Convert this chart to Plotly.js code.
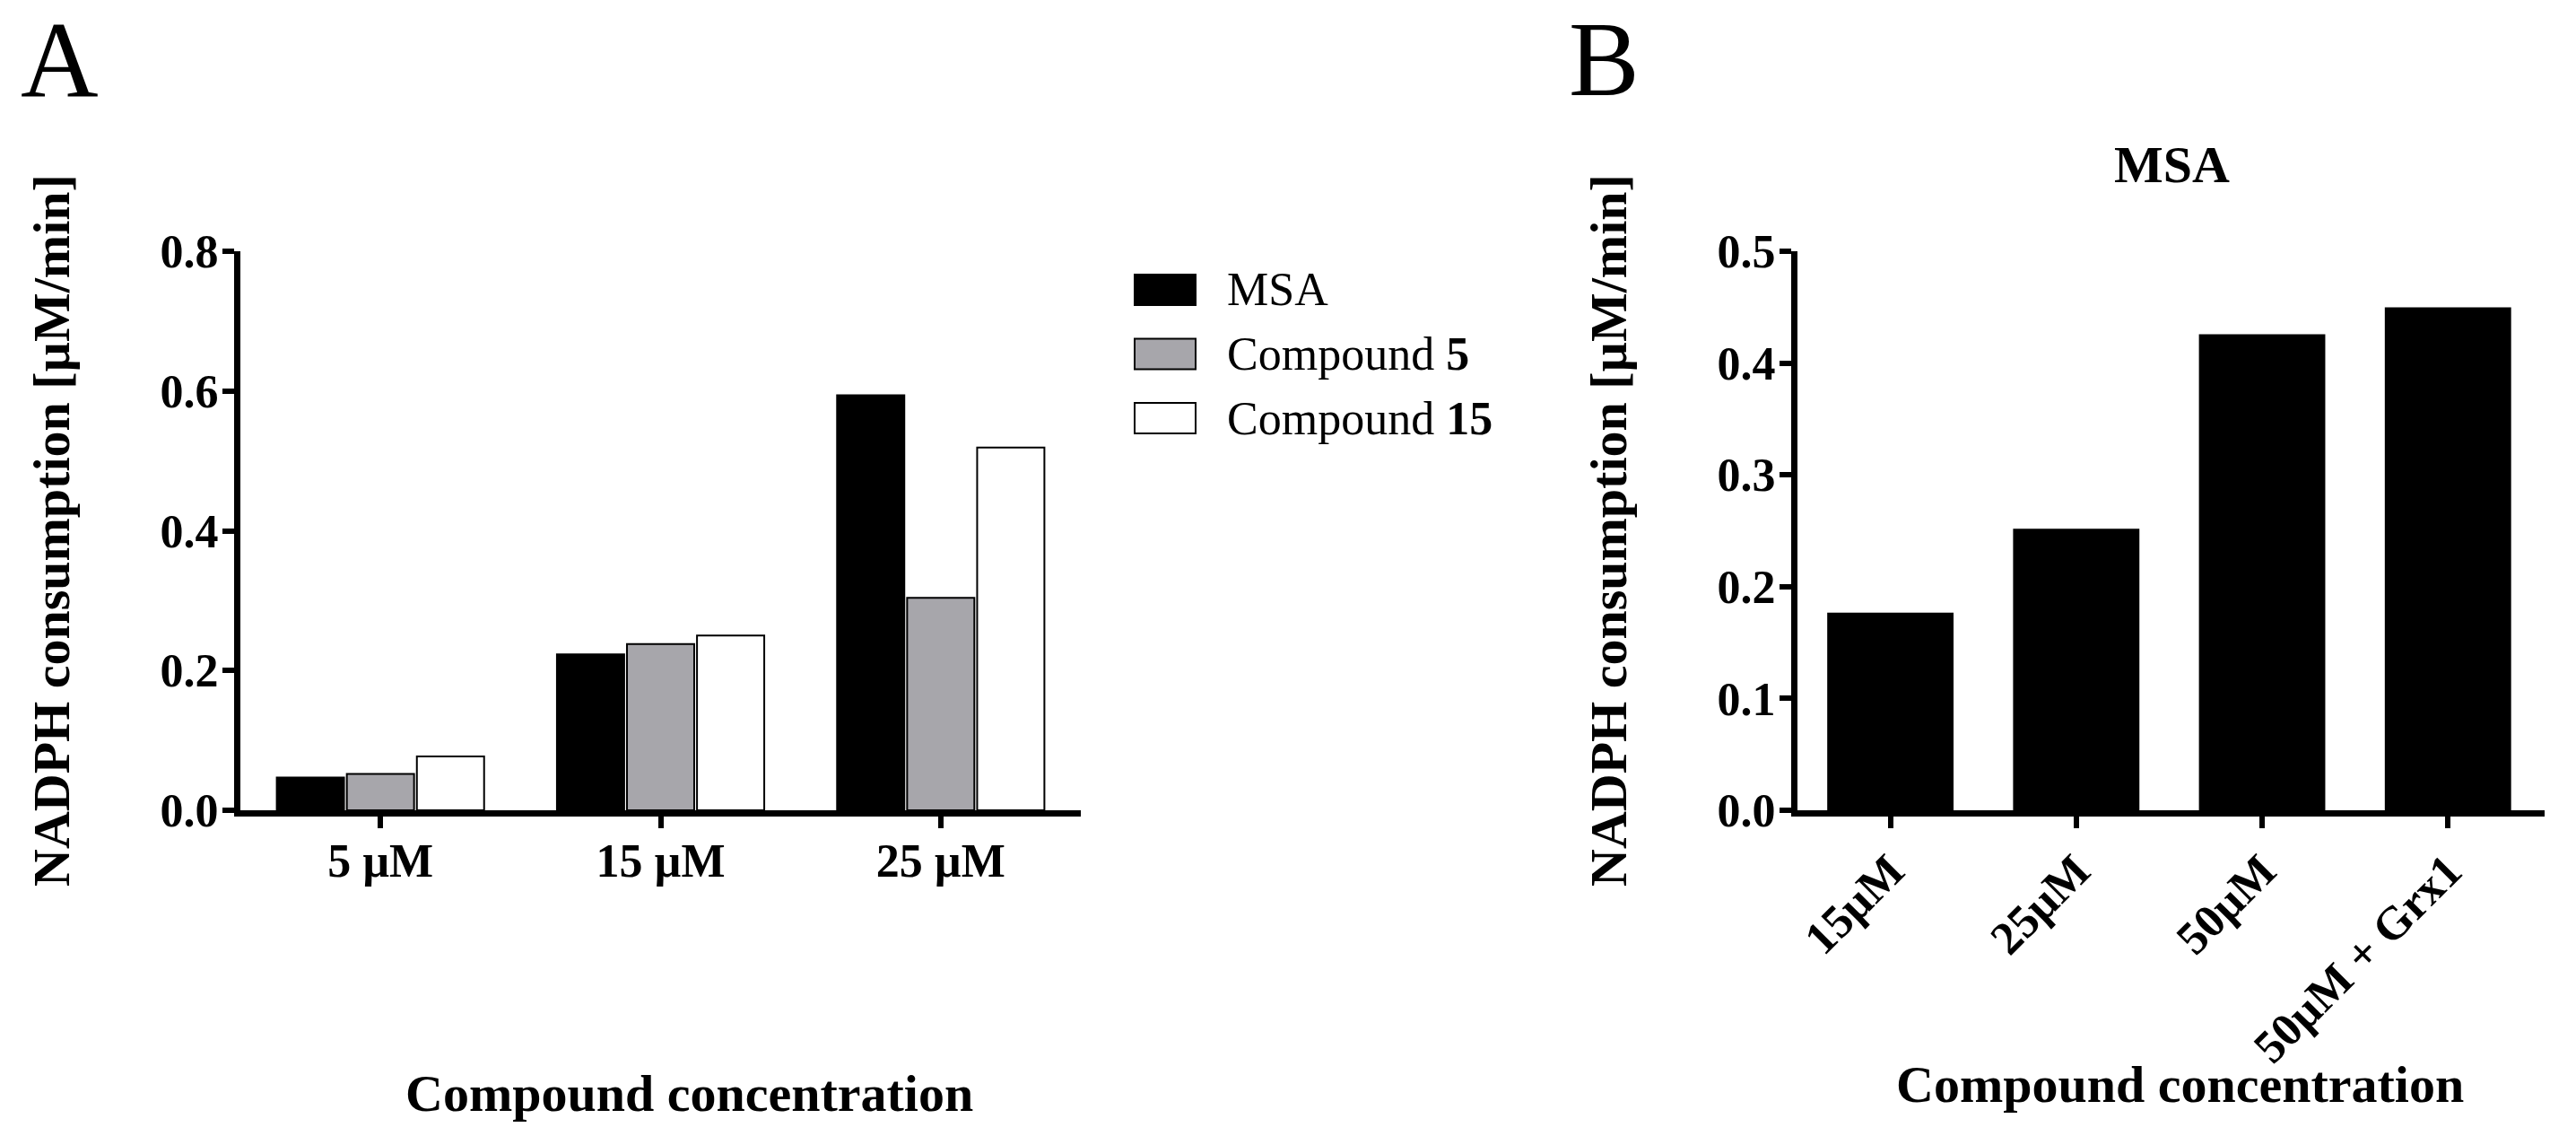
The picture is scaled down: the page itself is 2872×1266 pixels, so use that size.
<!DOCTYPE html>
<html>
<head>
<meta charset="utf-8">
<script src="https://cdn.plot.ly/plotly-3.0.1.min.js"></script>
<style>
  html, body { margin: 0; padding: 0; background: #fff; }
  #myDiv { width: 2872px; height: 1266px; }
</style>
</head>
<body>
<div id="myDiv"></div>
<script>
// panel A: three compounds at three concentrations
const concA = ['5 µM', '15 µM', '25 µM'];
const msaA = [0.047, 0.223, 0.594];
const cpd5A = [0.052, 0.238, 0.304];
const cpd15A = [0.077, 0.250, 0.519];

// panel B: MSA only
const concB = ['15µM', '25µM', '50µM', '50µM + Grx1'];
const msaB = [0.176, 0.251, 0.425, 0.449];

const yTicksA = [0, 0.2, 0.4, 0.6, 0.8];
const yTicksB = [0, 0.1, 0.2, 0.3, 0.4, 0.5];

const legendNames = ['MSA', 'Compound <b>5</b>', 'Compound <b>15</b>'];
const legendColors = ['#000000', '#a7a6ab', '#ffffff'];

const W = 2872, H = 1266;
const px = v => v / W;
const py = v => 1 - v / H;

const serif = 'Liberation Serif, Times New Roman, serif';

const msa = {
  x: concA, y: msaA, type: 'bar', name: 'MSA',
  marker: { color: legendColors[0], line: { color: '#000', width: 2 } },
  xaxis: 'x', yaxis: 'y'
};
const cpd5 = {
  x: concA, y: cpd5A, type: 'bar', name: 'Compound 5',
  marker: { color: legendColors[1], line: { color: '#000', width: 2 } },
  xaxis: 'x', yaxis: 'y'
};
const cpd15 = {
  x: concA, y: cpd15A, type: 'bar', name: 'Compound 15',
  marker: { color: legendColors[2], line: { color: '#000', width: 2 } },
  xaxis: 'x', yaxis: 'y'
};
const msaOnly = {
  x: concB, y: msaB, type: 'bar', name: 'MSA', width: 0.67,
  marker: { color: '#000', line: { color: '#000', width: 2 } },
  xaxis: 'x2', yaxis: 'y2'
};

const tickFont = { family: serif, size: 52, color: '#000', weight: 'bold' };

const axisBase = {
  showgrid: false, zeroline: false,
  showline: true, linecolor: '#000', linewidth: 7,
  ticks: 'outside', ticklen: 13, tickwidth: 6, tickcolor: '#000',
  tickfont: tickFont, fixedrange: true
};

// legend drawn as boxes + labels, like the original figure
const shapes = [];
const annotations = [];
const legRows = [323, 394.5, 466];
legRows.forEach((yc, i) => {
  shapes.push({
    type: 'rect', xref: 'paper', yref: 'paper',
    x0: px(1265), x1: px(1333), y0: py(yc - 17), y1: py(yc + 17),
    fillcolor: legendColors[i], line: { color: '#000', width: 2 }
  });
  annotations.push({
    xref: 'paper', yref: 'paper', x: px(1366), y: py(yc), xanchor: 'left', yanchor: 'middle',
    text: legendNames[i], showarrow: false,
    font: { family: serif, size: 52, color: '#000' }
  });
});

// panel letters, titles
annotations.push(
  { xref: 'paper', yref: 'paper', x: px(22), y: 1, xanchor: 'left', yanchor: 'top', borderpad: 0,
    text: 'A', showarrow: false, font: { family: serif, size: 120, color: '#000' } },
  { xref: 'paper', yref: 'paper', x: px(1748), y: 1, xanchor: 'left', yanchor: 'top', borderpad: 0,
    text: 'B', showarrow: false, font: { family: serif, size: 118, color: '#000' } },
  { xref: 'paper', yref: 'paper', x: px(2421), y: py(183), xanchor: 'center', yanchor: 'middle',
    text: 'MSA', showarrow: false, font: { family: serif, size: 58, color: '#000', weight: 'bold' } },
  { xref: 'paper', yref: 'paper', x: px(57), y: py(591), xanchor: 'center', yanchor: 'middle',
    textangle: -90, text: 'NADPH consumption [µM/min]', showarrow: false,
    font: { family: serif, size: 58, color: '#000', weight: 'bold' } },
  { xref: 'paper', yref: 'paper', x: px(1793), y: py(591), xanchor: 'center', yanchor: 'middle',
    textangle: -90, text: 'NADPH consumption [µM/min]', showarrow: false,
    font: { family: serif, size: 58, color: '#000', weight: 'bold' } },
  { xref: 'paper', yref: 'paper', x: px(768), y: py(1218), xanchor: 'center', yanchor: 'middle',
    text: 'Compound concentration', showarrow: false,
    font: { family: serif, size: 58, color: '#000', weight: 'bold' } },
  { xref: 'paper', yref: 'paper', x: px(2430), y: py(1208), xanchor: 'center', yanchor: 'middle',
    text: 'Compound concentration', showarrow: false,
    font: { family: serif, size: 58, color: '#000', weight: 'bold' } }
);

var layout = {
  width: W, height: H,
  margin: { l: 0, r: 0, t: 0, b: 0 },
  paper_bgcolor: '#fff', plot_bgcolor: '#fff',
  showlegend: false,
  barmode: 'group', bargap: 0.25, bargroupgap: 0.04,
  xaxis: Object.assign({}, axisBase, {
    domain: [px(268), px(1205)], anchor: 'y',
    type: 'category', range: [-0.5, 2.5], ticklabelstandoff: -8
  }),
  yaxis: Object.assign({}, axisBase, {
    domain: [py(903), py(280)], anchor: 'x',
    range: [0, 0.8], tickvals: yTicksA, tickformat: '.1f', ticklabelstandoff: -6
  }),
  xaxis2: Object.assign({}, axisBase, {
    domain: [px(2004), px(2837)], anchor: 'y2',
    type: 'category', range: [-0.5, 3.52], tickangle: -45, ticklabelstandoff: -4
  }),
  yaxis2: Object.assign({}, axisBase, {
    domain: [py(903), py(280)], anchor: 'x2',
    range: [0, 0.5], tickvals: yTicksB, tickformat: '.1f', ticklabelstandoff: -6
  }),
  shapes: shapes,
  annotations: annotations
};

Plotly.newPlot('myDiv', [msa, cpd5, cpd15, msaOnly], layout, { displayModeBar: false, staticPlot: true });
</script>
</body>
</html>
